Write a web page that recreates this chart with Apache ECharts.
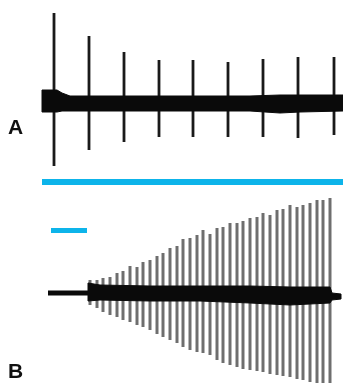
<!DOCTYPE html>
<html>
<head>
<meta charset="utf-8">
<script src="https://cdn.jsdelivr.net/npm/echarts@6/dist/echarts.min.js"></script>
<style>
    html, body { margin: 0; padding: 0; background: #fff; }
    #chart { width: 343px; height: 383px; }
</style>
</head>
<body>
<div id="chart"></div>
<script>
// panel A: spontaneous spikes (time, amplitude up / down from baseline)
var spikeTimesA = [54, 89, 124, 159, 193, 228, 263, 298, 334];
var spikeUpA = [90, 67, 51, 43, 43, 41, 44, 46, 46];
var spikeDownA = [-63, -47, -39, -34, -34, -34, -34, -35, -32];

// panel A: noisy baseline band (upper / lower edge)
var bandTimesA = [42, 57, 62, 70, 100, 150, 200, 250, 280, 300, 343];
var bandTopA = [13, 13, 10, 7, 7, 7, 7, 7, 8, 8, 8];
var bandBottomA = [-9, -9, -8, -8, -8, -8, -8, -8, -10, -9, -8];

// panel B: growing response (time, amplitude up / down)
var spikeTimesB = [90, 97, 103, 110, 117, 123, 130, 137, 143, 150, 157, 163, 170, 177, 183, 190, 197, 203, 210,
    217, 223, 230, 237, 243, 250, 257, 263, 270, 277, 283, 290, 297, 303, 310, 317, 323, 330];
var spikeUpB = [14, 14, 16, 17, 21, 23, 28, 27, 32, 34, 38, 41, 46, 48, 55, 56, 59, 64, 60,
    66, 67, 71, 71, 73, 76, 77, 81, 79, 84, 85, 89, 87, 89, 91, 94, 94, 96];
var spikeDownB = [-11, -14, -18, -21, -23, -26, -28, -31, -33, -36, -40, -43, -46, -49, -53, -56, -58, -59, -61,
    -66, -69, -71, -73, -75, -76, -77, -78, -80, -81, -82, -83, -85, -86, -88, -90, -90, -90];

// panel B: baseline before stimulus and noisy band during it
var preTimesB = [48, 88];
var preLevelB = [1, 1];
var bandTimesB = [88, 100, 150, 200, 250, 290, 330, 332, 341];
var bandTopB = [11, 9, 8, 8, 8, 7, 7, 1, 0];
var bandBottomB = [-7, -6, -7, -7, -9, -11, -9, -6, -5];

// scale bars
var scaleBarA = [42, 343];
var scaleLevelA = -79;
var scaleBarB = [51, 87];
var scaleLevelB = 63.5;

var blue = '#0db4ea';

function spikeRender(color, width) {
    return function (params, api) {
        var p1 = api.coord([api.value(0), api.value(1)]);
        var p2 = api.coord([api.value(0), api.value(2)]);
        return {
            type: 'line',
            shape: { x1: p1[0], y1: p1[1], x2: p2[0], y2: p2[1] },
            style: { stroke: color, lineWidth: width }
        };
    };
}

function bandRender(times, top, bottom) {
    return function (params, api) {
        if (params.dataIndex !== 0) return null;
        var pts = [];
        for (var i = 0; i < times.length; i++) pts.push(api.coord([times[i], top[i]]));
        for (var j = times.length - 1; j >= 0; j--) pts.push(api.coord([times[j], bottom[j]]));
        return {
            type: 'polygon',
            shape: { points: pts },
            style: { fill: '#0a0a0a', stroke: '#0a0a0a', lineWidth: 1 }
        };
    };
}

function zip3(a, b, c) {
    return a.map(function (v, i) { return [v, b[i], c[i]]; });
}

var chart = echarts.init(document.getElementById('chart'));
chart.setOption({
    animation: false,
    grid: [
        { left: 0, top: 0, width: 343, height: 190 },
        { left: 0, top: 190, width: 343, height: 193 }
    ],
    xAxis: [
        { type: 'value', gridIndex: 0, min: 0, max: 343, show: false },
        { type: 'value', gridIndex: 1, min: 0, max: 343, show: false }
    ],
    yAxis: [
        { type: 'value', gridIndex: 0, min: -87, max: 103, show: false },
        { type: 'value', gridIndex: 1, min: -89, max: 104, show: false }
    ],
    graphic: [
        { type: 'text', left: 8, top: 118, style: { text: 'A', font: 'bold 21px "Liberation Sans", Arial', fill: '#111' } },
        { type: 'text', left: 8, top: 362, style: { text: 'B', font: 'bold 21px "Liberation Sans", Arial', fill: '#111' } }
    ],
    series: [
        {
            type: 'custom', xAxisIndex: 0, yAxisIndex: 0, z: 2,
            renderItem: spikeRender('#1a1a1a', 2.8),
            data: zip3(spikeTimesA, spikeUpA, spikeDownA)
        },
        {
            type: 'custom', xAxisIndex: 0, yAxisIndex: 0, z: 3,
            renderItem: bandRender(bandTimesA, bandTopA, bandBottomA),
            data: zip3(bandTimesA, bandTopA, bandBottomA)
        },
        {
            type: 'line', xAxisIndex: 0, yAxisIndex: 0, symbol: 'none',
            lineStyle: { color: blue, width: 6 },
            data: scaleBarA.map(function (t) { return [t, scaleLevelA]; })
        },
        {
            type: 'custom', xAxisIndex: 1, yAxisIndex: 1, z: 2,
            renderItem: spikeRender('#6e6e6e', 3),
            data: zip3(spikeTimesB, spikeUpB, spikeDownB)
        },
        {
            type: 'custom', xAxisIndex: 1, yAxisIndex: 1, z: 3,
            renderItem: bandRender(bandTimesB, bandTopB, bandBottomB),
            data: zip3(bandTimesB, bandTopB, bandBottomB)
        },
        {
            type: 'line', xAxisIndex: 1, yAxisIndex: 1, symbol: 'none', z: 3,
            lineStyle: { color: '#0a0a0a', width: 5 },
            data: preTimesB.map(function (t, i) { return [t, preLevelB[i]]; })
        },
        {
            type: 'line', xAxisIndex: 1, yAxisIndex: 1, symbol: 'none',
            lineStyle: { color: blue, width: 5 },
            data: scaleBarB.map(function (t) { return [t, scaleLevelB]; })
        }
    ]
});
</script>
</body>
</html>
